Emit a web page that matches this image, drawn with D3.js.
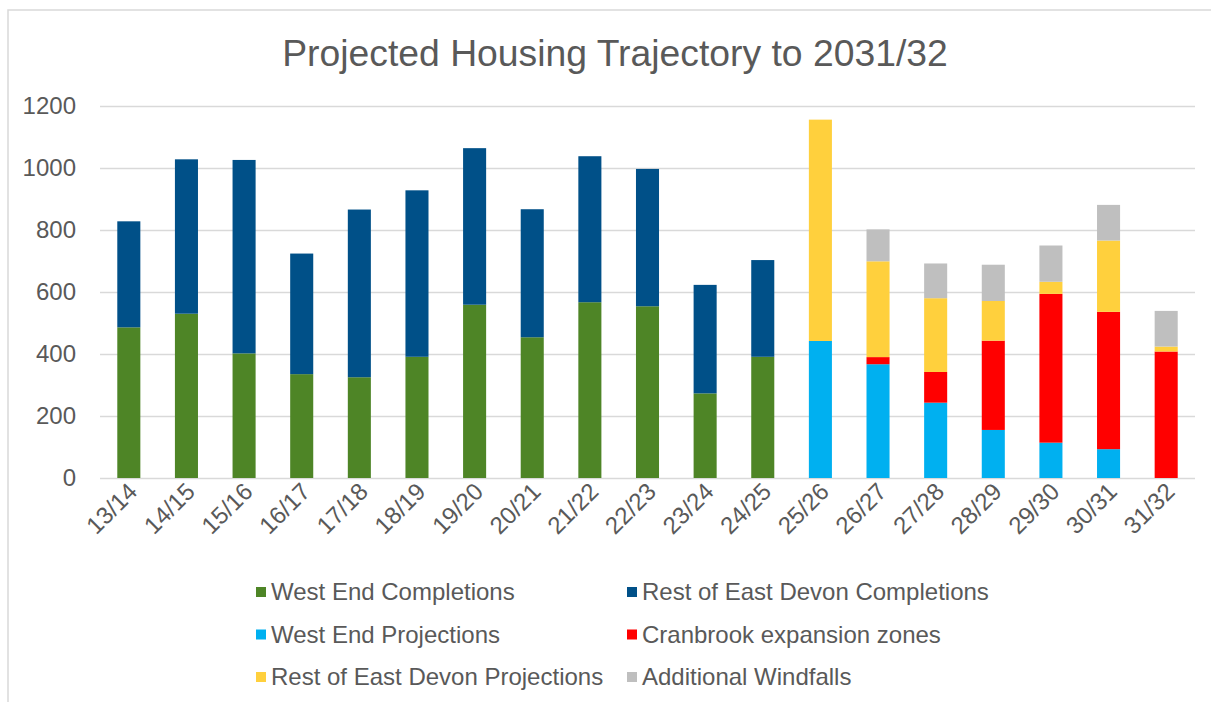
<!DOCTYPE html>
<html><head><meta charset="UTF-8">
<style>
body { margin: 0; background: #fff; }
svg text { font-family: "Liberation Sans", Arial, sans-serif; fill: #595959; }
.axis .domain { display: none; }
.axis line { stroke: #d9d9d9; }
</style>
</head>
<body>
<svg width="1211" height="702"></svg>
<script src="https://cdn.jsdelivr.net/npm/d3@7"></script>
<script>

var years = ["13/14", "14/15", "15/16", "16/17", "17/18", "18/19", "19/20", "20/21", "21/22", "22/23",
             "23/24", "24/25", "25/26", "26/27", "27/28", "28/29", "29/30", "30/31", "31/32"];

var westEndCompletions   = [486, 530, 402, 335, 325, 391, 559, 454, 567, 554, 273, 391, 0, 0, 0, 0, 0, 0, 0];
var restCompletions      = [342, 498, 624, 389, 541, 537, 505, 413, 471, 443, 350, 312, 0, 0, 0, 0, 0, 0, 0];
var westEndProjections   = [0, 0, 0, 0, 0, 0, 0, 0, 0, 0, 0, 0, 442, 367, 243, 155, 114, 93, 0];
var cranbrookZones       = [0, 0, 0, 0, 0, 0, 0, 0, 0, 0, 0, 0, 0, 23, 99, 288, 480, 443, 408];
var restProjections      = [0, 0, 0, 0, 0, 0, 0, 0, 0, 0, 0, 0, 714, 309, 238, 128, 39, 230, 16];
var additionalWindfalls  = [0, 0, 0, 0, 0, 0, 0, 0, 0, 0, 0, 0, 0, 103, 112, 117, 117, 115, 115];

var yTicks = [0, 200, 400, 600, 800, 1000, 1200];

var seriesNames = ["West End Completions", "Rest of East Devon Completions", "West End Projections",
                   "Cranbrook expansion zones", "Rest of East Devon Projections", "Additional Windfalls"];
var seriesColors = ["#4e8526", "#005088", "#00b0f0", "#ff0000", "#ffd03d", "#bfbfbf"];
var seriesValues = [westEndCompletions, restCompletions, westEndProjections,
                    cranbrookZones, restProjections, additionalWindfalls];

// build rows for d3.stack
var rows = years.map(function(yr, i) {
    var r = { year: yr };
    seriesNames.forEach(function(n, k) { r[n] = seriesValues[k][i]; });
    return r;
});

var svg = d3.select("svg");

// outer chart frame (runs off the right/bottom edge)
svg.append("rect")
    .attr("x", 8).attr("y", 10)
    .attr("width", 1300).attr("height", 800)
    .attr("fill", "none")
    .attr("stroke", "#d9d9d9")
    .attr("stroke-width", 1.5);

var margin = {top: 106, left: 100},
    width = 1095,
    height = 372;

var g = svg.append("g").attr("transform", "translate(" + margin.left + "," + margin.top + ")");

var x = d3.scaleBand()
    .domain(years)
    .range([0, width])
    .paddingInner(0.6)
    .paddingOuter(0.3);

var y = d3.scaleLinear()
    .domain([0, 1200])
    .range([height, 0]);

// gridlines
g.append("g")
    .attr("class", "axis")
    .call(d3.axisLeft(y).tickValues(yTicks).tickSize(-width).tickFormat(""))
    .selectAll("line")
    .attr("stroke-width", 1.5);

// y labels
g.append("g")
    .attr("class", "axis")
    .attr("transform", "translate(-21,0)")
    .call(d3.axisLeft(y).tickValues(yTicks).tickSize(0).tickFormat(d3.format("d")))
    .selectAll("text")
    .style("font-size", "24px")
    .attr("fill", "#595959");

var stack = d3.stack().keys(seriesNames)(rows);

g.append("g")
  .selectAll("g")
  .data(stack)
  .enter().append("g")
    .attr("fill", function(d, i) { return seriesColors[i]; })
  .selectAll("rect")
  .data(function(d) { return d; })
  .enter().append("rect")
    .attr("x", function(d) { return x(d.data.year); })
    .attr("width", x.bandwidth())
    .attr("y", function(d) { return y(d[1]); })
    .attr("height", function(d) { return y(d[0]) - y(d[1]); });

// x labels, rotated
var xAxis = g.append("g")
    .attr("class", "axis")
    .attr("transform", "translate(0," + height + ")")
    .call(d3.axisBottom(x).tickSize(0).tickPadding(0));

xAxis.selectAll("text")
    .style("font-size", "24px")
    .attr("fill", "#595959")
    .attr("text-anchor", "end")
    .attr("dy", "0")
    .attr("transform", "translate(10,15) rotate(-45)");

// title
svg.append("text")
    .attr("x", 615)
    .attr("y", 66)
    .attr("text-anchor", "middle")
    .style("font-size", "37.3px")
    .text("Projected Housing Trajectory to 2031/32");

// legend: 2 columns x 3 rows
var legend = svg.append("g")
  .selectAll("g")
  .data(seriesNames)
  .enter().append("g")
    .attr("transform", function(d, i) {
        return "translate(" + (i % 2 === 0 ? 256 : 627) + "," + (592 + Math.floor(i / 2) * 42.5) + ")";
    });

legend.append("rect")
    .attr("x", 0).attr("y", -5)
    .attr("width", 10).attr("height", 10)
    .attr("fill", function(d, i) { return seriesColors[i]; });

legend.append("text")
    .attr("x", 15)
    .attr("dy", "0.35em")
    .style("font-size", "24px")
    .text(function(d) { return d; });

</script>
</body></html>
